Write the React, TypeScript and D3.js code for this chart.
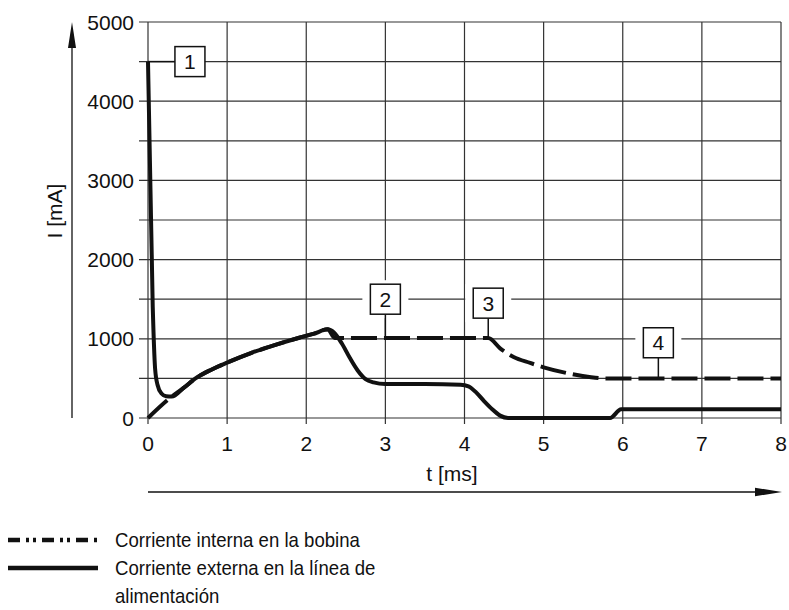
import * as d3 from 'd3';
import React from 'react';

// external current (solid) and internal coil current (dashed), t in ms, I in mA
const solidT = [0, 0.06, 0.09, 0.12, 0.17, 0.23, 0.3, 0.45, 0.6, 0.8, 1.0, 1.3, 1.6, 1.9, 2.1, 2.27, 2.35, 2.45, 2.55, 2.65, 2.75, 2.85, 3.0, 3.5, 3.95, 4.05, 4.15, 4.25, 4.35, 4.45, 4.55, 5.84, 5.98, 8.0];
const solidI = [4500, 1400, 620, 420, 310, 275, 270, 380, 500, 610, 700, 820, 920, 1010, 1065, 1120, 1080, 940, 760, 600, 490, 450, 430, 430, 420, 400, 320, 210, 110, 30, 0, 0, 110, 110];

const dashT = [0, 0.3, 0.45, 0.6, 0.8, 1.0, 1.3, 1.6, 1.9, 2.1, 2.27, 2.36, 4.3, 4.45, 4.62, 4.83, 5.0, 5.33, 5.6, 5.8, 8.0];
const dashI = [0, 270, 380, 500, 610, 700, 820, 920, 1010, 1065, 1120, 1010, 1010, 880, 770, 695, 640, 560, 515, 500, 500];

const xTicks = [0, 1, 2, 3, 4, 5, 6, 7, 8];
const yGrid = [0, 500, 1000, 1500, 2000, 2500, 3000, 3500, 4000, 4500, 5000];
const yLabels = [0, 1000, 2000, 3000, 4000, 5000];

// callout boxes: label, box centre (t, I), anchor point on curve
const callouts = [
  { label: '1', t: 0.53, i: 4500, at: 0, ai: 4500, side: 'left' },
  { label: '2', t: 3.0, i: 1500, at: 3.0, ai: 1010, side: 'down' },
  { label: '3', t: 4.3, i: 1450, at: 4.3, ai: 1010, side: 'down' },
  { label: '4', t: 6.45, i: 950, at: 6.45, ai: 500, side: 'down' },
];

const legendItems = ['Corriente interna en la bobina', 'Corriente externa en la línea de', 'alimentación'];

const font = "'Liberation Sans', Arial, sans-serif";

export default function App() {
  const width = 789;
  const height = 610;
  const x = d3.scaleLinear().domain([0, 8]).range([148, 781]);
  const y = d3.scaleLinear().domain([0, 5000]).range([418, 22]);

  const line = d3.line<[number, number]>()
    .x(d => x(d[0]))
    .y(d => y(d[1]))
    .curve(d3.curveMonotoneX);

  const solidPts = solidT.map((t, i) => [t, solidI[i]] as [number, number]);
  const dashPts = dashT.map((t, i) => [t, dashI[i]] as [number, number]);

  const gridColor = '#333';
  const box = 30;
  const legendY = 540;
  const rowGap = 28;

  return (
    <svg width={width} height={height} style={{ position: 'absolute', left: 0, top: 0, background: '#fff' }}>
      {/* grid */}
      {yGrid.map(v => (
        <line key={'h' + v} x1={139} x2={x(8)} y1={y(v)} y2={y(v)} stroke={gridColor} strokeWidth={1.2} />
      ))}
      {xTicks.map(v => (
        <line key={'v' + v} x1={x(v)} x2={x(v)} y1={y(5000)} y2={y(0) + 6} stroke={gridColor} strokeWidth={1.2} />
      ))}

      {/* tick labels */}
      {yLabels.map(v => (
        <text key={'yl' + v} x={134} y={y(v)} dy="0.36em" textAnchor="end" fontFamily={font} fontSize={21} fill="#111">{v}</text>
      ))}
      {xTicks.map(v => (
        <text key={'xl' + v} x={x(v)} y={451} textAnchor="middle" fontFamily={font} fontSize={21} fill="#111">{v}</text>
      ))}

      {/* axis arrows */}
      <line x1={72} x2={72} y1={44} y2={y(0)} stroke="#111" strokeWidth={1.3} />
      <path d={`M72,22 L76,48 L68,48 Z`} fill="#111" />
      <line x1={148} x2={758} y1={492} y2={492} stroke="#111" strokeWidth={1.3} />
      <path d={`M782,492 L755,487.7 L755,496.3 Z`} fill="#111" />

      <text x={0} y={0} transform={`translate(62,211) rotate(-90)`} textAnchor="middle" fontFamily={font} fontSize={21} fill="#111">I [mA]</text>
      <text x={452} y={481} textAnchor="middle" fontFamily={font} fontSize={21} fill="#111">t [ms]</text>

      {/* curves */}
      <path d={line(dashPts) || ''} fill="none" stroke="#111" strokeWidth={4} strokeDasharray="26,7" />
      <path d={line(solidPts) || ''} fill="none" stroke="#111" strokeWidth={4} strokeLinejoin="round" />

      {/* callouts */}
      {callouts.map(c => {
        const cx = x(c.t);
        const cy = y(c.i);
        return (
          <g key={'c' + c.label}>
            {c.side === 'left' ? (
              <line x1={x(c.at)} x2={cx - box / 2} y1={y(c.ai)} y2={y(c.ai)} stroke="#111" strokeWidth={1.5} />
            ) : (
              <>
                <rect x={cx - box / 2 - 8} y={cy - box / 2 - 4} width={box + 16} height={box + 8} fill="#fff" />
                <line x1={x(c.at)} x2={x(c.at)} y1={cy + box / 2} y2={y(c.ai)} stroke="#111" strokeWidth={1.5} />
              </>
            )}
            <rect x={cx - box / 2} y={cy - box / 2} width={box} height={box} fill="#fff" stroke="#111" strokeWidth={1.5} />
            <text x={cx} y={cy} dy="0.36em" textAnchor="middle" fontFamily={font} fontSize={21} fill="#111">{c.label}</text>
          </g>
        );
      })}

      {/* legend */}
      <line x1={8} x2={98} y1={legendY} y2={legendY} stroke="#111" strokeWidth={4.5} strokeDasharray="12,6,3,4,3,6" />
      <line x1={8} x2={98} y1={legendY + rowGap} y2={legendY + rowGap} stroke="#111" strokeWidth={4.5} />
      <g transform="translate(115,0) scale(0.93,1)">
        {legendItems.map((s, i) => (
          <text key={'lg' + i} x={0} y={legendY + i * rowGap} dy="0.36em" fontFamily={font} fontSize={20} fill="#111">{s}</text>
        ))}
      </g>
    </svg>
  );
}
